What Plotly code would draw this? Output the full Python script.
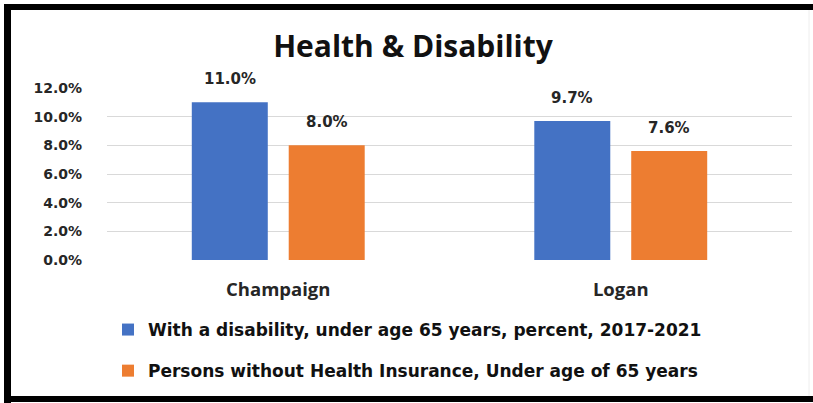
import plotly.graph_objects as go

categories = ["Champaign", "Logan"]
disability = [11.0, 9.7]
uninsured = [8.0, 7.6]
series_names = [
    "With a disability, under age 65 years, percent, 2017-2021",
    "Persons without Health Insurance, Under age of 65 years",
]
tick_vals = [0, 2, 4, 6, 8, 10, 12]
tick_text = ["0.0%", "2.0%", "4.0%", "6.0%", "8.0%", "10.0%", "12.0%"]

BLUE = "#4472C4"
ORANGE = "#ED7D31"
W, H = 813, 403
ML, MR, MT, MB = 107, 21, 88, 143
PW, PH = W - ML - MR, H - MT - MB
BARGAP, BARGROUPGAP = 0.434, 0.216

def px_x(px):
    return (px - ML) / PW

def px_y(py):
    return (H - MB - py) / PH

fig = go.Figure()
fig.add_trace(go.Bar(x=categories, y=disability, name=series_names[0],
                     marker=dict(color=BLUE, line=dict(width=0)), legendgroup="a"))
fig.add_trace(go.Bar(x=categories, y=uninsured, name=series_names[1],
                     marker=dict(color=ORANGE, line=dict(width=0)), legendgroup="b"))

slot = (1 - BARGAP) * (PW / len(categories)) / 2
for vals, sh in ((disability, -slot / 2), (uninsured, slot / 2)):
    for c, v in zip(categories, vals):
        fig.add_annotation(x=c, y=v, text=f"{v:.1f}%", showarrow=False,
                           xref="x", yref="y", yanchor="bottom", xshift=sh, yshift=12,
                           font=dict(family="DejaVu Sans", size=15, color="#262626", weight="bold"))

line_shapes = [
    dict(x0=px_x(4), x1=px_x(813), y0=px_y(7), y1=px_y(7), color="black", width=6),
    dict(x0=px_x(7.5), x1=px_x(7.5), y0=px_y(4), y1=px_y(403), color="black", width=7),
    dict(x0=px_x(4), x1=px_x(813), y0=px_y(399), y1=px_y(399), color="black", width=6),
    dict(x0=px_x(809), x1=px_x(809), y0=px_y(10), y1=px_y(396), color="#eeeeee", width=1),
]
for s in line_shapes:
    fig.add_shape(type="line", xref="paper", yref="paper", x0=s["x0"], x1=s["x1"],
                  y0=s["y0"], y1=s["y1"], line=dict(color=s["color"], width=s["width"]))

fig.update_layout(
    width=W, height=H,
    margin=dict(l=ML, r=MR, t=MT, b=MB, pad=0),
    paper_bgcolor="white", plot_bgcolor="white",
    barmode="group", bargap=BARGAP, bargroupgap=BARGROUPGAP,
    title=dict(text="<b>Health &amp; Disability</b>", x=0.508, xanchor="center",
               y=1 - 46 / H, yanchor="middle",
               font=dict(family="Open Sans", size=30, color="#111111")),
    yaxis=dict(range=[0, 12], tickvals=tick_vals, ticktext=tick_text,
               showgrid=True, gridcolor="#d9d9d9", gridwidth=1, zeroline=False,
               showline=False, ticks="", ticklabelstandoff=24,
               tickfont=dict(family="DejaVu Sans", size=14, color="#262626", weight="bold")),
    xaxis=dict(showline=False, ticks="", ticklabelstandoff=16,
               tickfont=dict(family="Open Sans", size=18.5, color="#262626", weight="bold")),
    showlegend=True,
    legend=dict(orientation="v", x=px_x(108), xanchor="left", y=px_y(312), yanchor="top",
                traceorder="grouped", tracegroupgap=16, itemwidth=30,
                font=dict(family="DejaVu Sans", size=17, color="#111111", weight="bold"),
                bgcolor="rgba(0,0,0,0)"),
)

fig.write_html("out.html")
